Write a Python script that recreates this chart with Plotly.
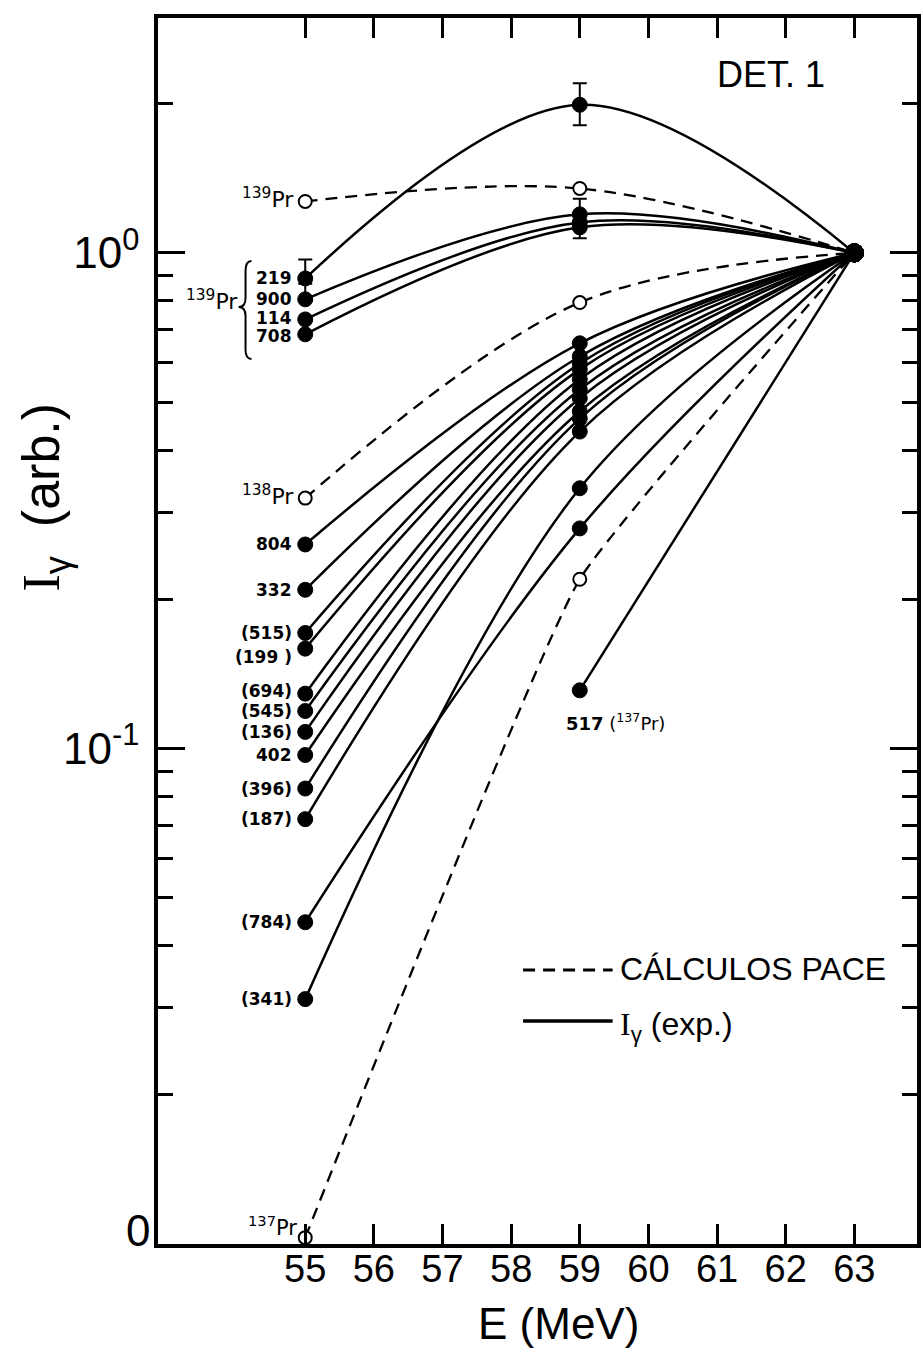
import numpy as np
import plotly.graph_objects as go

# ---------------- data ----------------
E = [55, 59, 63]

exp_names = ["219", "900", "114", "708", "804", "332", "(515)", "(199 )",
             "(694)", "(545)", "(136)", "402", "(396)", "(187)", "(784)", "(341)"]
exp_55 = [0.888, 0.806, 0.734, 0.685, 0.258, 0.209, 0.171, 0.159,
          0.129, 0.119, 0.108, 0.097, 0.083, 0.072, 0.0446, 0.0312]
exp_59 = [1.99, 1.196, 1.152, 1.126, 0.657, 0.618, 0.598, 0.582,
          0.556, 0.530, 0.509, 0.479, 0.463, 0.436, 0.278, 0.335]
exp_63 = [1.0, 1.0, 1.0, 1.0, 1.0, 1.0, 1.0, 1.0,
          1.0, 1.0, 1.0, 1.0, 1.0, 1.0, 1.0, 1.0]

e517_E = [59, 63]
e517_val = [0.131, 1.0]

pace_names = ["139", "138", "137"]
pace_55 = [1.27, 0.320, 0.0103]
pace_59 = [1.349, 0.794, 0.2195]
pace_63 = [1.0, 1.0, 1.0]

err_plus = {"219": [0.082, 0.21, 0.0], "900": [0.06, 0.09, 0.0]}
err_minus = {"219": [0.0, 0.18, 0.0], "900": [0.0, 0.0, 0.0], "708": [0.0, 0.055, 0.0]}

x_ticks = [55, 56, 57, 58, 59, 60, 61, 62, 63]
y_tickvals = [0.1, 1]
y_ticktext = ["10<sup>-1</sup>", "10<sup>0</sup>"]
y_minor = [0.02, 0.03, 0.04, 0.05, 0.06, 0.07, 0.08, 0.09,
           0.2, 0.3, 0.4, 0.5, 0.6, 0.7, 0.8, 0.9, 2]

# ---------------- layout geometry / style ----------------
W, H = 923, 1353
PL, PR, PT, PB = 158, 921, 18, 1244


def px(x):
    return (x - PL) / (PR - PL)


def py(y):
    return (PB - y) / (PB - PT)


label_dy = {"(199 )": -8, "(694)": 3, "114": 1, "708": -2}
pace_smooth = {"139": 1.0, "138": 1.0, "137": 0.35}

FONT = "Liberation Sans"
LBL = "DejaVu Sans"
SERIF_I = '<span style="font-family:Liberation Serif">I</span>'

fig = go.Figure()

# PACE calculations (dashed)
for i, nm in enumerate(pace_names):
    fig.add_trace(go.Scatter(
        x=E, y=[pace_55[i], pace_59[i], pace_63[i]],
        mode="lines+markers",
        line=dict(color="black", width=2.3, dash="12px,8px", shape="spline",
                  smoothing=pace_smooth[nm]),
        marker=dict(size=[13, 13, 13], color=["white", "white", "black"],
                    line=dict(color="black", width=2), opacity=1),
        cliponaxis=False, showlegend=False, hoverinfo="skip"))

# experimental curves
for i, nm in enumerate(exp_names):
    ey = None
    if nm in err_plus or nm in err_minus:
        ey = dict(type="data", symmetric=False,
                  array=err_plus.get(nm, [0, 0, 0]),
                  arrayminus=err_minus.get(nm, [0, 0, 0]),
                  color="black", thickness=2, width=7)
    fig.add_trace(go.Scatter(
        x=E, y=[exp_55[i], exp_59[i], exp_63[i]],
        mode="lines+markers",
        line=dict(color="black", width=2.5, shape="spline"),
        marker=dict(size=[15, 15, 18], color="black", opacity=1,
                    line=dict(color="black", width=1)),
        error_y=ey, showlegend=False, hoverinfo="skip"))

fig.add_trace(go.Scatter(
    x=e517_E, y=e517_val, mode="lines+markers",
    line=dict(color="black", width=2.5, shape="spline"),
    marker=dict(size=[15, 18], color="black", opacity=1,
                line=dict(color="black", width=1)),
    showlegend=False, hoverinfo="skip"))

ann = []
# labels next to experimental points at 55 MeV
for i, nm in enumerate(exp_names):
    ann.append(dict(x=55, y=np.log10(exp_55[i]), xref="x", yref="y",
                    text="<b>%s</b>" % nm, showarrow=False, xanchor="right",
                    yanchor="middle", xshift=-11, yshift=label_dy.get(nm, 0),
                    font=dict(family=LBL, size=17, color="black")))

# PACE labels
for i, nm in enumerate(pace_names):
    if nm == "137":
        ann.append(dict(x=55, y=np.log10(pace_55[i]), xref="x", yref="y",
                        text="<sup>137</sup>Pr", showarrow=False,
                        xanchor="right", yanchor="middle", xshift=-6, yshift=12,
                        font=dict(family=LBL, size=21, color="black")))
    else:
        ann.append(dict(x=55, y=np.log10(pace_55[i]), xref="x", yref="y",
                        text="<sup>%s</sup>Pr" % nm, showarrow=False,
                        xanchor="right", yanchor="middle", xshift=-9, yshift=3,
                        font=dict(family=LBL, size=22, color="black")))

# 517 label
ann.append(dict(x=59, y=np.log10(e517_val[0]), xref="x", yref="y",
                text="<b>517</b> (<sup>137</sup>Pr)", showarrow=False,
                xanchor="center", yanchor="middle", xshift=36, yshift=-32,
                font=dict(family=LBL, size=18, color="black")))

# group label for 139Pr lines
ann.append(dict(x=px(240), y=py(300), xref="paper", yref="paper",
                text="<sup>139</sup>Pr", showarrow=False, xanchor="right",
                yanchor="middle", font=dict(family=LBL, size=22, color="black")))

# DET. 1
ann.append(dict(x=px(774), y=py(75), xref="paper", yref="paper", text="DET. 1",
                showarrow=False, xanchor="center", yanchor="middle",
                font=dict(family=FONT, size=36, color="black")))

# "0" label on y axis
ann.append(dict(x=px(152), y=py(1230), xref="paper", yref="paper", text="0",
                showarrow=False, xanchor="right", yanchor="middle",
                font=dict(family=FONT, size=44, color="black")))

# axis titles
ann.append(dict(x=px(44), y=py(497), xref="paper", yref="paper",
                text=SERIF_I + "<sub>γ</sub>  (arb.)", textangle=-90, showarrow=False,
                xanchor="center", yanchor="middle",
                font=dict(family=FONT, size=52, color="black")))
ann.append(dict(x=px(561), y=py(1323), xref="paper", yref="paper",
                text="E (MeV)", showarrow=False, xanchor="center", yanchor="middle",
                font=dict(family=FONT, size=44, color="black")))

# legend text
ann.append(dict(x=px(620), y=py(969), xref="paper", yref="paper",
                text="CÁLCULOS PACE", showarrow=False, xanchor="left",
                yanchor="middle", font=dict(family=FONT, size=32, color="black")))
ann.append(dict(x=px(620), y=py(1026), xref="paper", yref="paper",
                text=SERIF_I + "<sub>γ</sub> (exp.)", showarrow=False, xanchor="left",
                yanchor="middle", font=dict(family=FONT, size=32, color="black")))

shapes = []
# legend samples
shapes.append(dict(type="line", xref="paper", yref="paper",
                   x0=px(525), x1=px(615), y0=py(970), y1=py(970),
                   line=dict(color="black", width=3, dash="12px,8px")))
shapes.append(dict(type="line", xref="paper", yref="paper",
                   x0=px(525), x1=px(615), y0=py(1021), y1=py(1021),
                   line=dict(color="black", width=3.5)))

# brace for 139Pr group
pts = [("M", (252, 261)), ("Q", (246, 261), (246, 271)), ("L", (246, 298)),
       ("Q", (246, 307), (239, 307)), ("Q", (246, 307), (246, 316)),
       ("L", (246, 350)), ("Q", (246, 359), (252, 359))]
path = ""
for seg in pts:
    path += seg[0] + " " + " ".join("%.5f,%.5f" % (px(a), py(b)) for a, b in seg[1:]) + " "
shapes.append(dict(type="path", xref="paper", yref="paper", path=path.strip(),
                   line=dict(color="black", width=2)))

fig.update_layout(
    width=W, height=H,
    margin=dict(l=PL, r=W - PR, t=PT, b=H - PB, pad=0),
    paper_bgcolor="white", plot_bgcolor="white",
    annotations=ann, shapes=shapes, showlegend=False,
    font=dict(family=FONT, color="black"),
)

fig.update_xaxes(
    range=[52.855, 63.913], tickmode="array", tickvals=x_ticks,
    ticktext=[str(t) for t in x_ticks],
    ticks="inside", ticklen=20, tickwidth=2.5, tickcolor="black",
    showline=True, linewidth=3.5, linecolor="black", mirror="ticks",
    showgrid=False, zeroline=False,
    tickfont=dict(family=FONT, size=38, color="black"), ticklabelstandoff=-11)

fig.update_yaxes(
    type="log", range=[-2.0, 0.474], tickmode="array",
    tickvals=y_tickvals, ticktext=y_ticktext,
    ticks="inside", ticklen=27, tickwidth=2.5, tickcolor="black",
    minor=dict(tickmode="array", tickvals=y_minor, ticks="inside",
               ticklen=15, tickwidth=2.5, tickcolor="black", showgrid=False),
    showline=True, linewidth=3.5, linecolor="black", mirror="ticks",
    showgrid=False, zeroline=False,
    tickfont=dict(family=FONT, size=44, color="black"), ticklabelstandoff=6)

fig.write_html("out.html",
               config={"displayModeBar": False},
               post_script="document.body.style.margin='0';"
                           "document.body.style.overflow='hidden';")
